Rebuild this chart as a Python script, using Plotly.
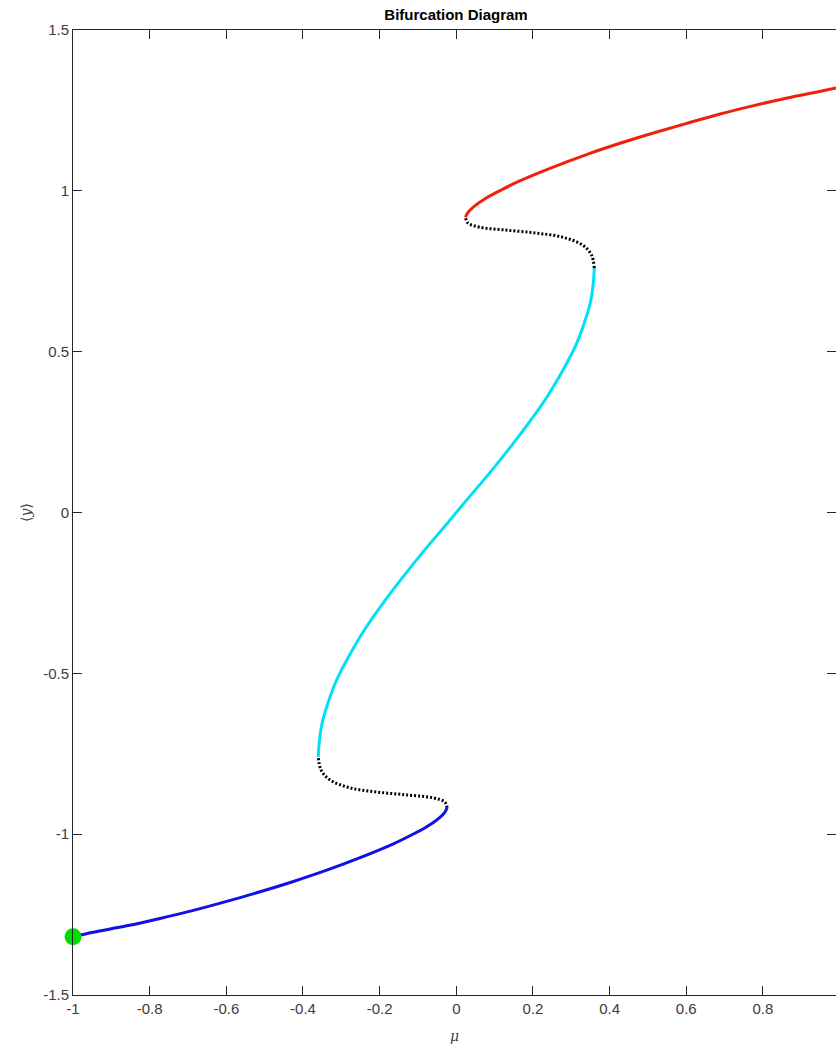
import plotly.graph_objects as go

# branch values (mu, <y>)
blue_mu = [-1.0, -0.947, -0.860, -0.773, -0.686, -0.599, -0.512, -0.425, -0.338, -0.251,
           -0.164, -0.121, -0.077, -0.045, -0.030, -0.024]
blue_y = [-1.319, -1.305, -1.285, -1.262, -1.237, -1.209, -1.179, -1.147, -1.112, -1.073,
          -1.030, -1.005, -0.977, -0.950, -0.932, -0.918]

dot_lo_mu = [-0.024, -0.030, -0.061, -0.129, -0.207, -0.277, -0.330, -0.353, -0.360]
dot_lo_y = [-0.918, -0.900, -0.887, -0.878, -0.869, -0.856, -0.831, -0.800, -0.760]

cyan_mu = [-0.360, -0.358, -0.351, -0.337, -0.312, -0.277, -0.237, -0.190, -0.139, -0.085, -0.028,
           0.028, 0.085, 0.139, 0.190, 0.237, 0.277, 0.312, 0.337, 0.351, 0.358, 0.360]
cyan_y = [-0.760, -0.720, -0.660, -0.600, -0.520, -0.440, -0.360, -0.280, -0.200, -0.120, -0.040,
          0.040, 0.120, 0.200, 0.280, 0.360, 0.440, 0.520, 0.600, 0.660, 0.720, 0.760]

dot_hi_mu = [0.360, 0.353, 0.330, 0.277, 0.207, 0.129, 0.061, 0.030, 0.024]
dot_hi_y = [0.760, 0.800, 0.831, 0.856, 0.869, 0.878, 0.887, 0.900, 0.918]

red_mu = [0.024, 0.030, 0.045, 0.077, 0.121, 0.164, 0.251, 0.338, 0.425, 0.512, 0.599,
          0.686, 0.773, 0.860, 0.947, 1.0]
red_y = [0.918, 0.932, 0.950, 0.977, 1.005, 1.030, 1.073, 1.112, 1.147, 1.179, 1.209,
         1.238, 1.264, 1.288, 1.309, 1.322]

start_mu = [-1.0]
start_y = [-1.319]

x_ticks = [-1, -0.8, -0.6, -0.4, -0.2, 0, 0.2, 0.4, 0.6, 0.8, 1]
x_labels = ['-1', '-0.8', '-0.6', '-0.4', '-0.2', '0', '0.2', '0.4', '0.6', '0.8', '1']
y_ticks = [-1.5, -1, -0.5, 0, 0.5, 1, 1.5]
y_labels = ['-1.5', '-1', '-0.5', '0', '0.5', '1', '1.5']

x_range = [-1, 0.9906]  # the right border sits just past the window edge

fig = go.Figure()

solid = dict(width=3, shape='spline', smoothing=1.0)
dotted = dict(color='black', width=3, dash='2px,2px', shape='spline', smoothing=1.0)
fig.add_trace(go.Scatter(x=blue_mu, y=blue_y, mode='lines', line=dict(color='#1010E8', **solid)))
fig.add_trace(go.Scatter(x=cyan_mu, y=cyan_y, mode='lines', line=dict(color='#00E1F4', **solid)))
fig.add_trace(go.Scatter(x=red_mu, y=red_y, mode='lines', line=dict(color='#F0200C', **solid)))
fig.add_trace(go.Scatter(x=dot_lo_mu, y=dot_lo_y, mode='lines', line=dotted))
fig.add_trace(go.Scatter(x=dot_hi_mu, y=dot_hi_y, mode='lines', line=dotted))
fig.add_trace(go.Scatter(x=start_mu, y=start_y, mode='markers', cliponaxis=False,
                         marker=dict(color='#00DD00', size=17, line=dict(width=0))))

# invisible trace so the right-hand tick axis is drawn
fig.add_trace(go.Scatter(x=[0], y=[0], yaxis='y2', mode='markers', marker=dict(opacity=0),
                         hoverinfo='skip'))

tick_font = dict(family='Liberation Sans, Arial', size=15, color='#3c3c3c')

# last x tick label, cut off by the window edge
last_frac = (x_ticks[-1] - x_range[0]) / (x_range[1] - x_range[0])
fig.add_annotation(text=x_labels[-1], xref='paper', yref='paper', x=last_frac, y=0,
                   xanchor='center', yanchor='top', yshift=-6, showarrow=False, font=tick_font)

fig.update_layout(
    width=836,
    height=1044,
    showlegend=False,
    plot_bgcolor='white',
    paper_bgcolor='white',
    margin=dict(l=73, r=0, t=30, b=49),
    title=dict(
        text='<b>Bifurcation Diagram</b>',
        x=0.5455,
        xanchor='center',
        y=1 - 15 / 1044,
        yanchor='middle',
        font=dict(family='Liberation Sans, Arial', size=15, color='black')
    ),
    xaxis=dict(
        range=x_range,
        tickvals=x_ticks,
        ticktext=x_labels,
        ticks='inside',
        ticklen=9,
        tickcolor='#262626',
        showline=True,
        linecolor='#262626',
        linewidth=1,
        mirror='ticks',
        showgrid=False,
        zeroline=False,
        tickfont=tick_font,
        title=dict(text='<i>μ</i>', font=dict(family='DejaVu Serif', size=14, color='#404040'), standoff=17),
    ),
    yaxis=dict(
        range=[-1.5, 1.5],
        tickvals=y_ticks,
        ticktext=y_labels,
        ticks='inside',
        ticklen=9,
        tickcolor='#262626',
        showline=True,
        linecolor='#262626',
        linewidth=1,
        showgrid=False,
        zeroline=False,
        tickfont=tick_font,
        title=dict(text='⟨<i>y</i>⟩', font=dict(family='DejaVu Serif', size=14, color='#404040'), standoff=8),
    ),
    yaxis2=dict(
        range=[-1.5, 1.5],
        overlaying='y',
        side='right',
        tickvals=y_ticks,
        ticks='inside',
        ticklen=9,
        tickcolor='#262626',
        showticklabels=False,
        showline=False,
        showgrid=False,
        zeroline=False,
    ),
)

# drop the default 8px page margin so the figure fills the window exactly
fig.write_html("out.html", config={'displayModeBar': False},
               post_script="document.body.style.margin = '0';")
